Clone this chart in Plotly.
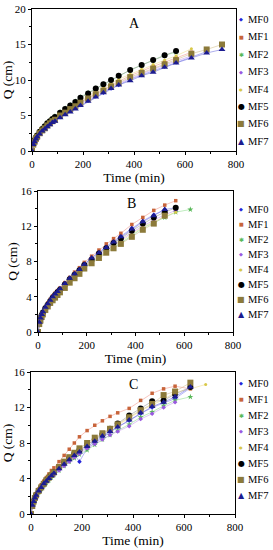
import plotly.graph_objects as go

# ---------------- data ----------------
times = [0, 5, 10, 15, 20, 30, 40, 50, 60, 70, 80, 90, 110, 130, 150, 170, 190,
         220, 250, 280, 310, 340, 385, 430, 475, 520, 565, 625, 685, 745]

series_names = ["MF0", "MF1", "MF2", "MF3", "MF4", "MF5", "MF6", "MF7"]

# Panel A
A_MF0 = [0,0.9,1.3,1.7,2.0,2.4,2.8,3.1,3.5,3.8,4.0,4.3,4.8,5.2,5.7,6.1,6.5,7.1,7.7,8.2,8.8,9.3,10.1,10.7,11.3,11.9,12.5,13.3,14.0]
A_MF1 = [0,0.9,1.4,1.8,2.1,2.5,2.9,3.3,3.6,3.9,4.2,4.5,5.0,5.5,6.0,6.4,6.9,7.5,8.1,8.7,9.3,9.8,10.6,11.3,11.9,12.5,13.1,13.9]
A_MF2 = [0,1.0,1.5,1.9,2.3,2.8,3.2,3.6,4.0,4.3,4.6,4.9,5.5,6.0,6.5,7.0,7.6,8.2,8.8,9.4,10.0,10.6,11.4,12.1,12.8,13.5,13.9]
A_MF3 = [0,0.9,1.3,1.7,2.0,2.4,2.8,3.2,3.5,3.8,4.1,4.3,4.8,5.3,5.8,6.2,6.7,7.2,7.8,8.4,8.9,9.5,10.2,10.9,11.5,12.1,12.7,13.4]
A_MF4 = [0,0.9,1.4,1.8,2.1,2.6,3.0,3.4,3.7,4.0,4.3,4.6,5.1,5.6,6.1,6.6,7.1,7.7,8.3,8.9,9.5,10.1,10.8,11.5,12.2,12.8,13.4,14.4]
A_MF5 = [0,1.0,1.5,1.9,2.2,2.7,3.1,3.5,3.9,4.2,4.5,4.8,5.4,5.9,6.4,6.9,7.5,8.1,8.8,9.4,10.0,10.6,11.4,12.1,12.8,13.5,14.1]
A_MF6 = [0,0.9,1.3,1.7,2.0,2.5,2.9,3.2,3.6,3.9,4.2,4.4,5.0,5.4,5.9,6.3,6.8,7.4,8.0,8.5,9.1,9.6,10.4,11.0,11.6,12.2,12.8,13.7,14.3,15.0]
A_MF7 = [0,0.9,1.3,1.7,2.0,2.4,2.8,3.1,3.4,3.7,4.0,4.2,4.7,5.1,5.5,5.9,6.4,7.0,7.6,8.2,8.8,9.3,9.9,10.6,11.1,11.8,12.4,13.1,13.8,14.3]

# Panel B
B_MF0 = [0,1.1,1.6,2.0,2.3,2.8,3.2,3.6,4.0,4.3,4.6,4.9,5.5,6.1,6.6,7.1,7.7,8.4,9.1,9.7,10.3,10.9,11.8,12.6,13.3,13.9,14.1]
B_MF1 = [0,1.1,1.6,2.0,2.3,2.8,3.3,3.7,4.1,4.4,4.7,5.0,5.6,6.2,6.8,7.3,7.9,8.6,9.3,10.0,10.6,11.2,12.2,13.0,13.8,14.4,14.9]
B_MF2 = [0,0.9,1.3,1.7,2.0,2.5,2.9,3.3,3.7,4.0,4.3,4.6,5.1,5.7,6.2,6.7,7.3,7.9,8.5,9.1,9.6,10.1,11.0,11.8,12.4,13.0,13.6,13.9]
B_MF3 = [0,1.0,1.5,1.9,2.2,2.7,3.1,3.5,3.8,4.1,4.4,4.7,5.3,5.9,6.4,6.9,7.5,8.1,8.7,9.3,9.9,10.4,11.3,12.0,12.7,13.3,13.8]
B_MF4 = [0,1.0,1.4,1.8,2.1,2.6,3.0,3.4,3.8,4.1,4.4,4.7,5.2,5.8,6.3,6.8,7.4,8.0,8.6,9.2,9.8,10.3,11.1,11.9,12.5,13.1,13.6]
B_MF5 = [0,1.0,1.5,1.9,2.2,2.7,3.1,3.5,3.9,4.2,4.5,4.8,5.4,6.0,6.5,7.0,7.6,8.2,8.9,9.5,10.1,10.6,11.5,12.3,13.0,13.6,14.1]
B_MF6 = [0,0.9,1.3,1.7,2.0,2.5,2.9,3.3,3.6,3.9,4.2,4.5,5.0,5.6,6.1,6.6,7.2,7.8,8.4,9.0,9.5,10.0,10.8,11.6,12.3,13.2]
B_MF7 = [0,1.1,1.6,2.0,2.3,2.8,3.2,3.6,4.0,4.3,4.6,4.9,5.5,6.1,6.6,7.1,7.7,8.4,9.0,9.6,10.2,10.8,11.7,12.5,13.2,13.9]

# Panel C
C_MF0 = [0,1.1,1.6,2.0,2.3,2.8,3.2,3.6,3.9,4.2,4.5,4.8,5.3,5.8,6.3,6.7,5.9,7.4,8.0,8.6,9.2,9.8,10.5,11.3,12.0,12.5,13.0,14.2]
C_MF1 = [0,1.0,1.5,1.9,2.3,2.8,3.3,3.7,4.1,4.5,4.9,5.2,5.9,6.6,7.3,8.0,8.7,9.4,10.0,10.5,11.0,11.4,11.9,12.8,13.6,14.1,14.4,14.1]
C_MF2 = [0,0.9,1.3,1.6,1.9,2.4,2.8,3.2,3.5,3.8,4.1,4.4,4.9,5.4,5.9,6.3,6.7,7.2,7.8,8.4,8.9,9.4,10.1,10.9,11.5,12.2,12.8,13.2]
C_MF3 = [0,0.9,1.3,1.7,2.0,2.4,2.8,3.2,3.6,3.9,4.2,4.4,4.9,5.4,5.9,6.4,6.8,7.4,7.9,8.4,8.9,9.3,9.9,10.7,11.3,12.0,12.6]
C_MF4 = [0,0.9,1.3,1.7,2.0,2.5,2.9,3.3,3.7,4.0,4.3,4.6,5.1,5.7,6.2,6.7,7.2,7.8,8.4,9.0,9.5,10.0,10.8,11.6,12.3,12.9,13.7,14.1,14.6]
C_MF5 = [0,1.0,1.4,1.8,2.1,2.6,3.0,3.4,3.8,4.1,4.4,4.7,5.3,5.8,6.3,6.8,7.2,7.8,8.4,9.0,9.6,10.2,11.1,11.9,12.7,12.8,13.5,14.3]
C_MF6 = [0,0.9,1.4,1.8,2.1,2.6,3.0,3.4,3.8,4.1,4.4,4.7,5.3,5.9,6.4,6.9,7.4,8.0,8.6,9.1,9.6,10.1,10.9,11.7,12.4,13.4,13.8,14.8]
C_MF7 = [0,1.0,1.4,1.8,2.1,2.6,3.0,3.4,3.7,4.0,4.3,4.6,5.1,5.6,6.1,6.6,7.0,7.6,8.2,8.8,9.3,9.8,10.6,11.4,12.1,12.6,13.2,14.3]

panel_labels = ["A", "B", "C"]
x_ticks = [0, 200, 400, 600, 800]
yA_ticks = [0, 5, 10, 15, 20]
yBC_ticks = [0, 4, 8, 12, 16]

panels = [
    [A_MF0, A_MF1, A_MF2, A_MF3, A_MF4, A_MF5, A_MF6, A_MF7],
    [B_MF0, B_MF1, B_MF2, B_MF3, B_MF4, B_MF5, B_MF6, B_MF7],
    [C_MF0, C_MF1, C_MF2, C_MF3, C_MF4, C_MF5, C_MF6, C_MF7],
]

# ---------------- style ----------------
colors = ["#2424d8", "#c8643a", "#58b858", "#9a58e0", "#d8c848", "#000000", "#8c7a3a", "#1c1c90"]
line_colors = ["rgba(120,120,240,0.7)", "rgba(240,150,140,0.7)", "rgba(140,220,140,0.7)",
               "rgba(200,150,240,0.7)", "rgba(240,220,140,0.7)", "rgba(150,150,150,0.7)",
               "rgba(210,190,140,0.7)", "rgba(110,110,220,0.7)"]
symbols = ["diamond", "square", "star", "diamond", "circle", "circle", "square", "triangle-up"]
sizes = [3.5, 3.5, 4.5, 3.5, 3, 6, 6, 6]
legend_glyphs = ["◆", "■", "✱", "◆", "●", "●", "■", "▲"]
legend_glyph_sizes = [5, 5, 6, 5, 4, 8, 8, 8]

W, H = 273, 550
# pixel boxes of plot areas: (left, right, top, bottom)
boxes = [(32, 236, 9, 151), (38, 233, 191, 332), (31, 235, 372, 514)]
legend_first = [19.5, 209, 383]
legend_step = [17.4, 15.1, 16.1]
letter_pos = [(134, 23), (131, 204), (133, 384)]
yranges = [[0, 20], [0, 16], [0, 16]]
yticks = [yA_ticks, yBC_ticks, yBC_ticks]
ydticks = [5, 4, 4]

FONT = "Liberation Serif"
fig = go.Figure()
annotations = []

for p in range(3):
    ax = "" if p == 0 else str(p + 1)
    for i, name in enumerate(series_names):
        vals = panels[p][i]
        fig.add_trace(go.Scatter(
            x=times[:len(vals)], y=vals, name=name, mode="lines+markers",
            xaxis="x" + ax, yaxis="y" + ax, showlegend=False,
            line=dict(color=line_colors[i], width=0.8),
            marker=dict(symbol=symbols[i], size=sizes[i], color=colors[i], line=dict(width=0)),
        ))
    l, r, t, b = boxes[p]
    xdom = [l / W, r / W]
    ydom = [1 - b / H, 1 - t / H]
    axis_common = dict(showline=True, linecolor="black", linewidth=1, mirror=True,
                       ticks="outside", ticklen=3, tickcolor="black", showgrid=False,
                       zeroline=False, automargin=False,
                       tickfont=dict(family=FONT, size=11, color="black"))
    fig.update_layout(**{
        "xaxis" + ax: dict(domain=xdom, range=[0, 800], tickvals=x_ticks, anchor="y" + ax,
                           title=dict(text="Time (min)", font=dict(family=FONT, size=13.5, color="black"), standoff=0),
                           minor=dict(ticks="outside", ticklen=2, dtick=100, tickcolor="black"),
                           **axis_common),
        "yaxis" + ax: dict(domain=ydom, range=yranges[p], tickvals=yticks[p], anchor="x" + ax,
                           title=dict(text="Q (cm)", font=dict(family=FONT, size=13.5, color="black"), standoff=0),
                           minor=dict(ticks="outside", ticklen=2, dtick=ydticks[p] / 2, tickcolor="black"),
                           **axis_common),
    })
    # panel letter
    lx, ly = letter_pos[p]
    annotations.append(dict(text=panel_labels[p], x=lx / W, y=1 - ly / H, xref="paper", yref="paper",
                            showarrow=False, xanchor="center", yanchor="middle",
                            font=dict(family=FONT, size=14, color="black")))
    # legend
    for i, name in enumerate(series_names):
        yc = legend_first[p] + legend_step[p] * i
        annotations.append(dict(text=legend_glyphs[i], x=241 / W, y=1 - yc / H, xref="paper", yref="paper",
                                showarrow=False, xanchor="center", yanchor="middle",
                                font=dict(family="DejaVu Sans", size=legend_glyph_sizes[i], color=colors[i])))
        annotations.append(dict(text=name, x=246 / W, y=1 - yc / H, xref="paper", yref="paper",
                                showarrow=False, xanchor="left", yanchor="middle",
                                font=dict(family=FONT, size=10.5, color="black")))

fig.update_layout(width=W, height=H, margin=dict(l=0, r=0, t=0, b=0, autoexpand=False),
                  paper_bgcolor="white", plot_bgcolor="white", showlegend=False,
                  annotations=annotations)
fig.write_html("out.html", config={"displayModeBar": False},
               post_script="document.body.style.margin='0';document.body.style.overflow='hidden';")
